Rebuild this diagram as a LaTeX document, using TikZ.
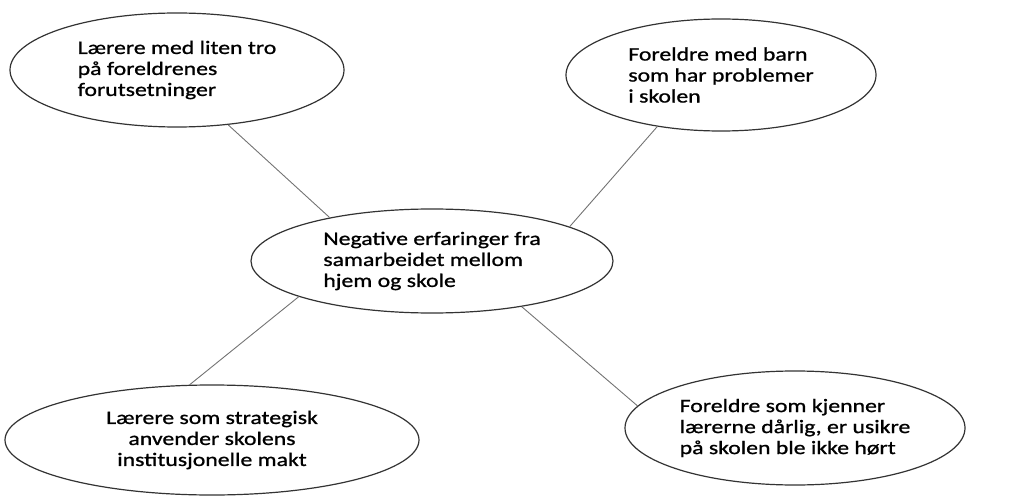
\documentclass[tikz,border=0pt]{standalone}
\usepackage{fontspec}
\usepackage{tikz}
\usetikzlibrary{shapes.geometric}
\newfontfamily\bubblefont{Carlito}[FakeStretch=1.25,FakeBold=1]

\tikzset{
	bubble/.style={ellipse, draw=black!80, line width=1.2pt, inner sep=0pt,
		font=\bubblefont\fontsize{19pt}{21pt}\selectfont},
	link/.style={draw=black!55, line width=0.9pt}
}

\begin{document}
\begin{tikzpicture}[x=1pt,y=-1pt]
	\useasboundingbox (0,0) rectangle (1017,497);
	\node[bubble, minimum width=362pt, minimum height=104pt, align=left] (neg) at (432,261)
		{Negative erfaringer fra\\samarbeidet mellom\\hjem og skole};
	\foreach \nm/\x/\y/\w/\h/\al/\a/\b/\txt in {
		tro/177/70/334/114/left/-47/157/{Lærere med liten tro\\på foreldrenes\\forutsetninger},
		barn/721/75/310/112/left/219/14/{Foreldre med barn\\som har problemer\\i skolen},
		makt/212/440/414/110/center/112/195/{Lærere som strategisk\\anvender skolens\\institusjonelle makt},
		hort/795/428/340/114/left/172/-27/{Foreldre som kjenner\\lærerne dårlig, er usikre\\på skolen ble ikke hørt}}
	{
		\node[bubble, minimum width=\w pt, minimum height=\h pt, align=\al] (\nm) at (\x,\y) {\txt};
		\draw[link] (\nm.\a) -- (neg.\b);
	}
\end{tikzpicture}
\end{document}
